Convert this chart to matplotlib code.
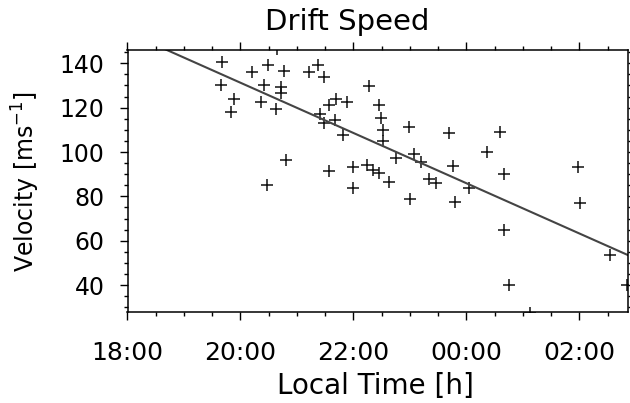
import numpy as np
import matplotlib
matplotlib.use('Agg')
import matplotlib.pyplot as plt

# local time in hours (values past 24 are after midnight)
hora = [19.67, 19.66, 19.89, 19.83, 20.20, 20.48, 20.41, 20.36, 20.63, 20.71,
        20.71, 20.77, 20.47, 20.80, 20.64, 21.22, 21.37, 21.47, 21.41, 21.48,
        21.57, 21.69, 21.89, 21.68, 21.81, 21.57, 21.99, 21.99, 22.27, 22.45,
        22.49, 22.53, 22.52, 22.24, 22.35, 22.45, 22.63, 22.76, 22.99, 23.08,
        23.20, 23.00, 23.34, 23.46, 23.70, 23.76, 23.79, 24.05, 24.36, 24.60,
        24.66, 24.67, 24.76, 25.12, 25.97, 26.01, 26.54, 26.84]
# drift velocity in m/s
velocidade = [140.4, 130.2, 123.8, 118.2, 136.2, 139.3, 130.1, 122.7, 119.3, 129.5,
              126.6, 136.5, 85.3, 96.2, 146.5, 135.9, 139.4, 133.8, 117.3, 113.1,
              121.1, 123.8, 122.7, 114.6, 107.7, 91.5, 93.1, 83.8, 129.6, 121.1,
              115.2, 109.9, 105.0, 94.3, 91.9, 90.4, 86.6, 97.1, 111.4, 99.1,
              95.6, 78.9, 87.7, 86.1, 108.4, 93.7, 77.3, 83.6, 100.1, 109.1,
              90.1, 64.9, 40.1, 27.2, 93.1, 77.1, 53.7, 40.2]

# linear fit: v = a + b * (t - 18)
ajuste_a = 153.9
ajuste_b = -11.33

xticks = [18, 20, 22, 24, 26]
xlabels = ['18:00', '20:00', '22:00', '00:00', '02:00']
yticks = [40, 60, 80, 100, 120, 140]

plt.rcParams['font.family'] = 'DejaVu Sans'

fig = plt.figure(figsize=(6.3, 4.03), dpi=100)
ax = fig.add_axes([127.5 / 630, 1 - 311.7 / 403, 500.5 / 630, 261.7 / 403])

ax.plot(hora, velocidade, '+', color='#111111', markersize=8, markeredgewidth=1.1)

x = np.linspace(18, 26.86, 50)
ax.plot(x, ajuste_a + ajuste_b * (x - 18), color='#444444', linewidth=1.5)

ax.set_xlim(18, 26.86)
ax.set_ylim(28, 146)

ax.set_xticks(xticks)
ax.set_xticklabels(xlabels)
ax.set_xticks(np.arange(18, 27, 0.5), minor=True)
ax.set_yticks(yticks)
ax.set_yticks(np.arange(30, 146, 5), minor=True)

ax.tick_params(which='both', direction='out', top=True, right=True, width=1, color='black')
ax.tick_params(which='major', length=6)
ax.tick_params(which='minor', length=3)
ax.tick_params(axis='x', labelsize=18, pad=15)
ax.tick_params(axis='y', labelsize=17, pad=10.5)
for s in ax.spines.values():
    s.set_linewidth(1.1)

fig.text(347 / 630, 1 - 22 / 403, 'Drift Speed', fontsize=21, ha='center', va='center')
fig.text(375 / 630, 1 - 386 / 403, 'Local Time [h]', fontsize=20, ha='center', va='center')
fig.text(26 / 630, 1 - 181 / 403, r'Velocity [ms$^{-1}$]', fontsize=17, rotation=90,
         ha='center', va='center')

plt.savefig('out.png', dpi=100)
